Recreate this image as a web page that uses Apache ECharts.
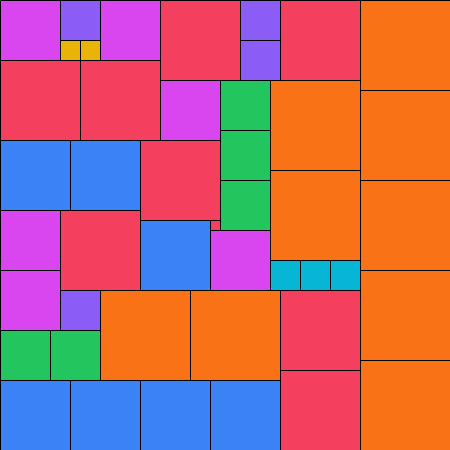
<!DOCTYPE html>
<html>
<head>
<meta charset="utf-8">
<script src="https://cdn.jsdelivr.net/npm/echarts@6/dist/echarts.min.js"></script>
<style>html,body{margin:0;padding:0;background:#fff}#c{width:450px;height:450px}</style>
</head>
<body>
<div id="c"></div>
<script>
// Square packing: left edge, top edge, side length (grid units of 10), colour group
const xs    = [0,6,6,8,10,16,24,24,28,36, 0,8,16,22,22,22,27,36, 0,7,14,27,36, 0,6,14,21,21,27,30,33, 0,36, 6,10,19,28, 0,5,36, 0,7,14,21,28];
const ys    = [0,0,4,4,0,0,0,4,0,0, 6,6,8,8,13,18,8,9, 14,14,14,17,18, 21,21,22,22,23,26,26,26, 27,27, 29,29,29,29, 33,33,36, 38,38,38,38,37];
const sizes = [6,4,2,2,6,8,4,4,8,9, 8,8,6,5,5,5,9,9, 7,7,8,9,9, 6,8,7,1,6,3,3,3, 6,9, 4,9,9,8, 5,5,9, 7,7,7,7,8];
const groups= ['magenta','purple','yellow','yellow','magenta','red','purple','purple','red','orange',
               'red','red','magenta','green','green','green','orange','orange',
               'blue','blue','red','orange','orange',
               'magenta','red','blue','red','magenta','cyan','cyan','cyan',
               'magenta','orange',
               'purple','orange','orange','red',
               'green','green','orange',
               'blue','blue','blue','blue','red'];
const palette = {magenta:'#d946ef', purple:'#8b5cf6', yellow:'#eab308', red:'#f43f5e',
                 orange:'#f97316', green:'#22c55e', blue:'#3b82f6', cyan:'#06b6d4'};
const SIDE = 45;

const data = xs.map((x,i)=>[x, ys[i], sizes[i], i]);

const chart = echarts.init(document.getElementById('c'), null, {renderer:'canvas'});
chart.setOption({
  animation:false,
  grid:{left:0,right:0,top:0,bottom:0},
  xAxis:{type:'value',min:0,max:SIDE,show:false},
  yAxis:{type:'value',min:0,max:SIDE,inverse:true,show:false},
  series:[{
    type:'custom',
    encode:{x:0,y:1},
    data:data,
    renderItem:function(params, api){
      const x = api.value(0), y = api.value(1), s = api.value(2), i = api.value(3);
      const p0 = api.coord([x, y]);
      const p1 = api.coord([x + s, y + s]);
      return {
        type:'rect',
        shape:{x:p0[0]+0.5, y:p0[1]+0.5, width:p1[0]-p0[0], height:p1[1]-p0[1]},
        style:{fill:palette[groups[i]], stroke:'#000', lineWidth:1}
      };
    }
  }]
});
</script>
</body>
</html>
